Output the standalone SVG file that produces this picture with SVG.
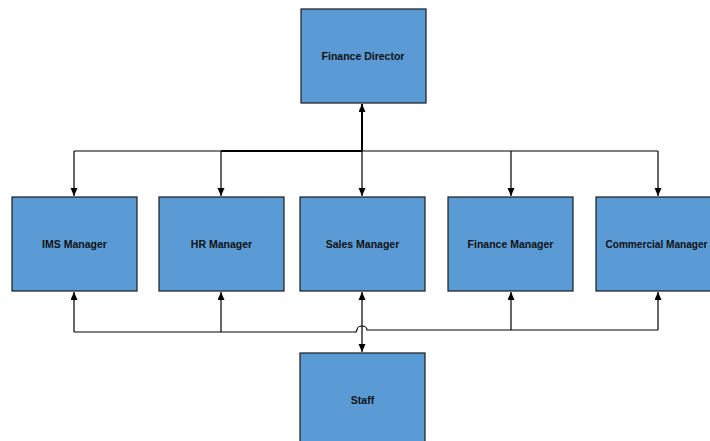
<svg xmlns="http://www.w3.org/2000/svg" width="710" height="441" viewBox="0 0 710 441">
<style>
.box{fill:#5b9bd5;stroke:#1a1a1a;stroke-width:1.2}
.lbl{font-family:"Liberation Sans",Arial,sans-serif;font-weight:bold;font-size:10.5px;fill:#111;text-anchor:middle}
.ln{fill:none;stroke:#000;stroke-width:1.2}
.thick{fill:none;stroke:#000;stroke-width:2}
</style>
<defs>
<marker id="ah" markerUnits="userSpaceOnUse" markerWidth="9" markerHeight="8" refX="8" refY="3.5" orient="auto">
<path d="M0,0 L8,3.5 L0,7 z" fill="#000"/>
</marker>
<marker id="as" markerUnits="userSpaceOnUse" markerWidth="9" markerHeight="8" refX="0" refY="3.5" orient="auto">
<path d="M8,0 L0,3.5 L8,7 z" fill="#000"/>
</marker>
</defs>
<rect width="710" height="441" fill="#fff"/>
<g id="connectors">
<line class="thick" x1="362" y1="151" x2="362" y2="104" marker-end="url(#ah)"/>
<path class="ln" d="M74,151 H658"/>
<path class="thick" d="M221,151 H362"/>
<line class="ln" x1="74" y1="151" x2="74" y2="196" marker-end="url(#ah)"/>
<line class="ln" x1="221" y1="151" x2="221" y2="196" marker-end="url(#ah)"/>
<line class="ln" x1="362" y1="151" x2="362" y2="196" marker-end="url(#ah)"/>
<line class="ln" x1="511" y1="151" x2="511" y2="196" marker-end="url(#ah)"/>
<line class="ln" x1="658" y1="151" x2="658" y2="196" marker-end="url(#ah)"/>
<path class="ln" d="M74,332 H356 L357,330 A5,4 0 0 1 367,330 H658"/>
<line class="ln" x1="74" y1="332" x2="74" y2="292" marker-end="url(#ah)"/>
<line class="ln" x1="221" y1="332" x2="221" y2="292" marker-end="url(#ah)"/>
<line class="ln" x1="511" y1="330" x2="511" y2="292" marker-end="url(#ah)"/>
<line class="ln" x1="658" y1="330" x2="658" y2="292" marker-end="url(#ah)"/>
<line class="ln" x1="362" y1="292" x2="362" y2="352" marker-start="url(#as)" marker-end="url(#ah)"/>
</g>
<g id="finance-director"><rect class="box" x="301" y="9" width="125" height="94"/><text class="lbl" x="363" y="60">Finance Director</text></g>
<g id="ims-manager"><rect class="box" x="12" y="197" width="125" height="94"/><text class="lbl" x="74.5" y="248">IMS Manager</text></g>
<g id="hr-manager"><rect class="box" x="159" y="197" width="125" height="94"/><text class="lbl" x="221.5" y="248">HR Manager</text></g>
<g id="sales-manager"><rect class="box" x="300" y="197" width="125" height="94"/><text class="lbl" x="362.5" y="248">Sales Manager</text></g>
<g id="finance-manager"><rect class="box" x="448" y="197" width="125" height="94"/><text class="lbl" x="510.5" y="248">Finance Manager</text></g>
<g id="commercial-manager"><rect class="box" x="596" y="197" width="125" height="94"/><text class="lbl" x="656.5" y="248" style="font-size:10.1px">Commercial Manager</text></g>
<g id="staff"><rect class="box" x="300" y="353" width="125" height="94"/><text class="lbl" x="362.5" y="404">Staff</text></g>
</svg>
